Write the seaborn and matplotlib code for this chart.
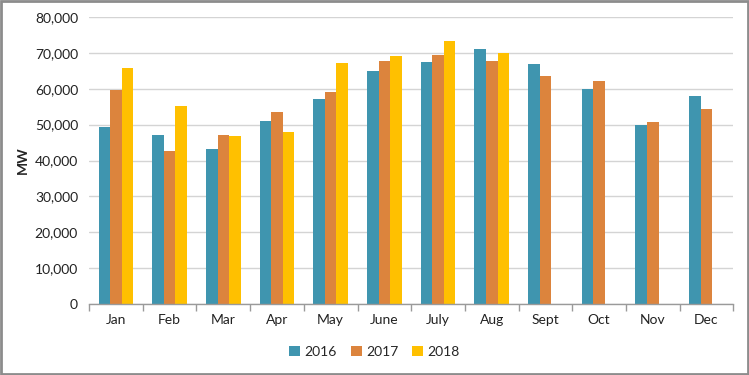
import matplotlib
matplotlib.use("Agg")
import matplotlib.pyplot as plt
import seaborn as sns
import pandas as pd
import numpy as np
from matplotlib.patches import Rectangle
from matplotlib.ticker import FuncFormatter, FixedLocator

months = ["Jan", "Feb", "Mar", "Apr", "May", "June", "July", "Aug", "Sept", "Oct", "Nov", "Dec"]
years = ["2016", "2017", "2018"]
v2016 = [49300, 47200, 43200, 51000, 57100, 64900, 67400, 71000, 66900, 60000, 49800, 57900]
v2017 = [59600, 42600, 47100, 53500, 59000, 67600, 69300, 67700, 63500, 62200, 50700, 54400]
v2018 = [65700, 55100, 46800, 47900, 67100, 69000, 73200, 70000, np.nan, np.nan, np.nan, np.nan]
colors = ["#3F95AF", "#DC843D", "#FFC000"]

rows = []
for y, vals in zip(years, [v2016, v2017, v2018]):
    for m, v in zip(months, vals):
        rows.append({"Month": m, "Year": y, "MW": v})
df = pd.DataFrame(rows)

sns.set_theme(style="white")
plt.rcParams["font.family"] = ["Lato", "DejaVu Sans"]

fig = plt.figure(figsize=(7.49, 3.75), dpi=100)
ax = fig.add_axes([0.119, 0.189, 0.860, 0.766])

sns.barplot(data=df, x="Month", y="MW", hue="Year", order=months, hue_order=years,
            palette=colors, width=0.65, saturation=1, ax=ax, legend=True, errorbar=None,
            linewidth=0)

ax.set_ylim(0, 80000)
ax.set_xlim(-0.5, 11.5)
ax.yaxis.set_major_locator(FixedLocator(np.arange(0, 80001, 10000)))
ax.yaxis.set_major_formatter(FuncFormatter(lambda v, p: f"{int(v):,}"))
ax.grid(axis="y", color="#D4D4D4", linewidth=1)
ax.set_axisbelow(True)
for s in ["top", "right", "left"]:
    ax.spines[s].set_visible(False)
ax.spines["bottom"].set_color("#9A9A9A")
ax.spines["bottom"].set_linewidth(1)

ax.set_xticks(np.arange(-0.5, 12, 1), minor=True)
ax.tick_params(axis="x", which="major", length=0, labelsize=10, pad=7, colors="#222222")
ax.tick_params(axis="x", which="minor", length=5, color="#9A9A9A", width=1, bottom=True)
ax.tick_params(axis="y", length=0, labelsize=10, pad=8, colors="#222222")
ax.set_xlabel("")
ax.set_ylabel("MW", fontsize=10, fontweight="bold", labelpad=4)

leg = ax.legend(loc="center", bbox_to_anchor=(0.5, 0.062), bbox_transform=fig.transFigure,
                ncol=3, frameon=False, fontsize=10, handlelength=0.8, handleheight=0.8,
                handletextpad=0.3, columnspacing=1.0)

fig.patches.append(Rectangle((0.002, 0.003), 0.996, 0.994, transform=fig.transFigure,
                             fill=False, edgecolor="#8C8C8C", linewidth=2))

fig.savefig("out.png", dpi=100)
